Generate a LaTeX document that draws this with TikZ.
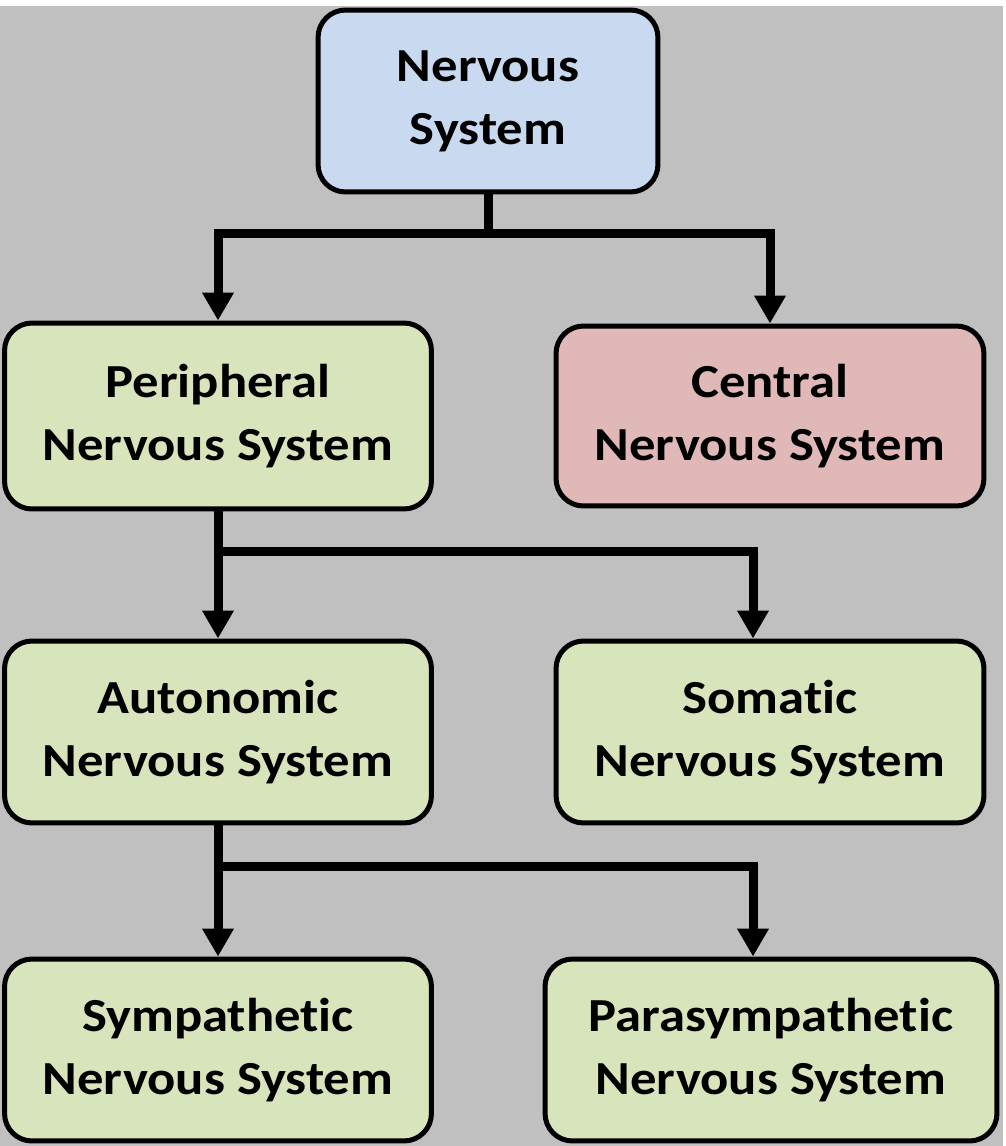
\documentclass[tikz,border=0pt]{standalone}
\usepackage{fontspec}
\setmainfont{Carlito}[FakeStretch=1.11,Ligatures=NoCommon]
\usetikzlibrary{arrows.meta}

\definecolor{bggray}{HTML}{C0C0C0}
\definecolor{topblue}{HTML}{C9D9EF}
\definecolor{subgreen}{HTML}{D8E4BC}
\definecolor{cnsred}{HTML}{DFB8B7}

\tikzset{
  box/.style={draw, line width=0.1cm, rounded corners=0.55cm, align=center,
    inner sep=0pt, font=\bfseries\fontsize{27}{36}\selectfont},
  link/.style={line width=0.18cm},
  arr/.style={link, -{Triangle[width=0.6cm,length=0.56cm]}}
}

\begin{document}
\begin{tikzpicture}[x=0.02cm,y=-0.02cm]

\useasboundingbox (0,0) rectangle (1006,1146);
\fill[white] (0,0) rectangle (1006,1146);
\fill[bggray] (0,6) rectangle (1003,1146);

% boxes
\node[box, fill=topblue, minimum width=6.8cm, minimum height=3.64cm] (nervous) at (488,101) {Nervous\\System};
\node[box, fill=subgreen, minimum width=8.54cm, minimum height=3.72cm] (peripheral) at (218,416) {Peripheral\\Nervous System};
\node[box, fill=cnsred, minimum width=8.56cm, minimum height=3.6cm] (central) at (770,416) {Central\\Nervous System};
\node[box, fill=subgreen, minimum width=8.54cm, minimum height=3.64cm] (autonomic) at (218,732) {Autonomic\\Nervous System};
\node[box, fill=subgreen, minimum width=8.56cm, minimum height=3.64cm] (somatic) at (770,732) {Somatic\\Nervous System};
\node[box, fill=subgreen, minimum width=8.54cm, minimum height=3.64cm] (sympathetic) at (218,1050) {Sympathetic\\Nervous System};
\node[box, fill=subgreen, minimum width=9.04cm, minimum height=3.64cm] (parasympathetic) at (771,1050) {Parasympathetic\\Nervous System};

% branch points
\coordinate (j1) at (488,233);
\coordinate (j2) at (753,551);
\coordinate (j3) at (753,866);

\draw[link] (nervous) -- (j1);
\draw[arr] (j1) -| (peripheral.north);
\draw[arr] (j1) -| (central.north);

\draw[arr] (peripheral) -- (autonomic);
\draw[arr] (peripheral.south) |- (j2) -- (j2 |- somatic.north);

\draw[arr] (autonomic) -- (sympathetic);
\draw[arr] (autonomic.south) |- (j3) -- (j3 |- parasympathetic.north);

\end{tikzpicture}
\end{document}
